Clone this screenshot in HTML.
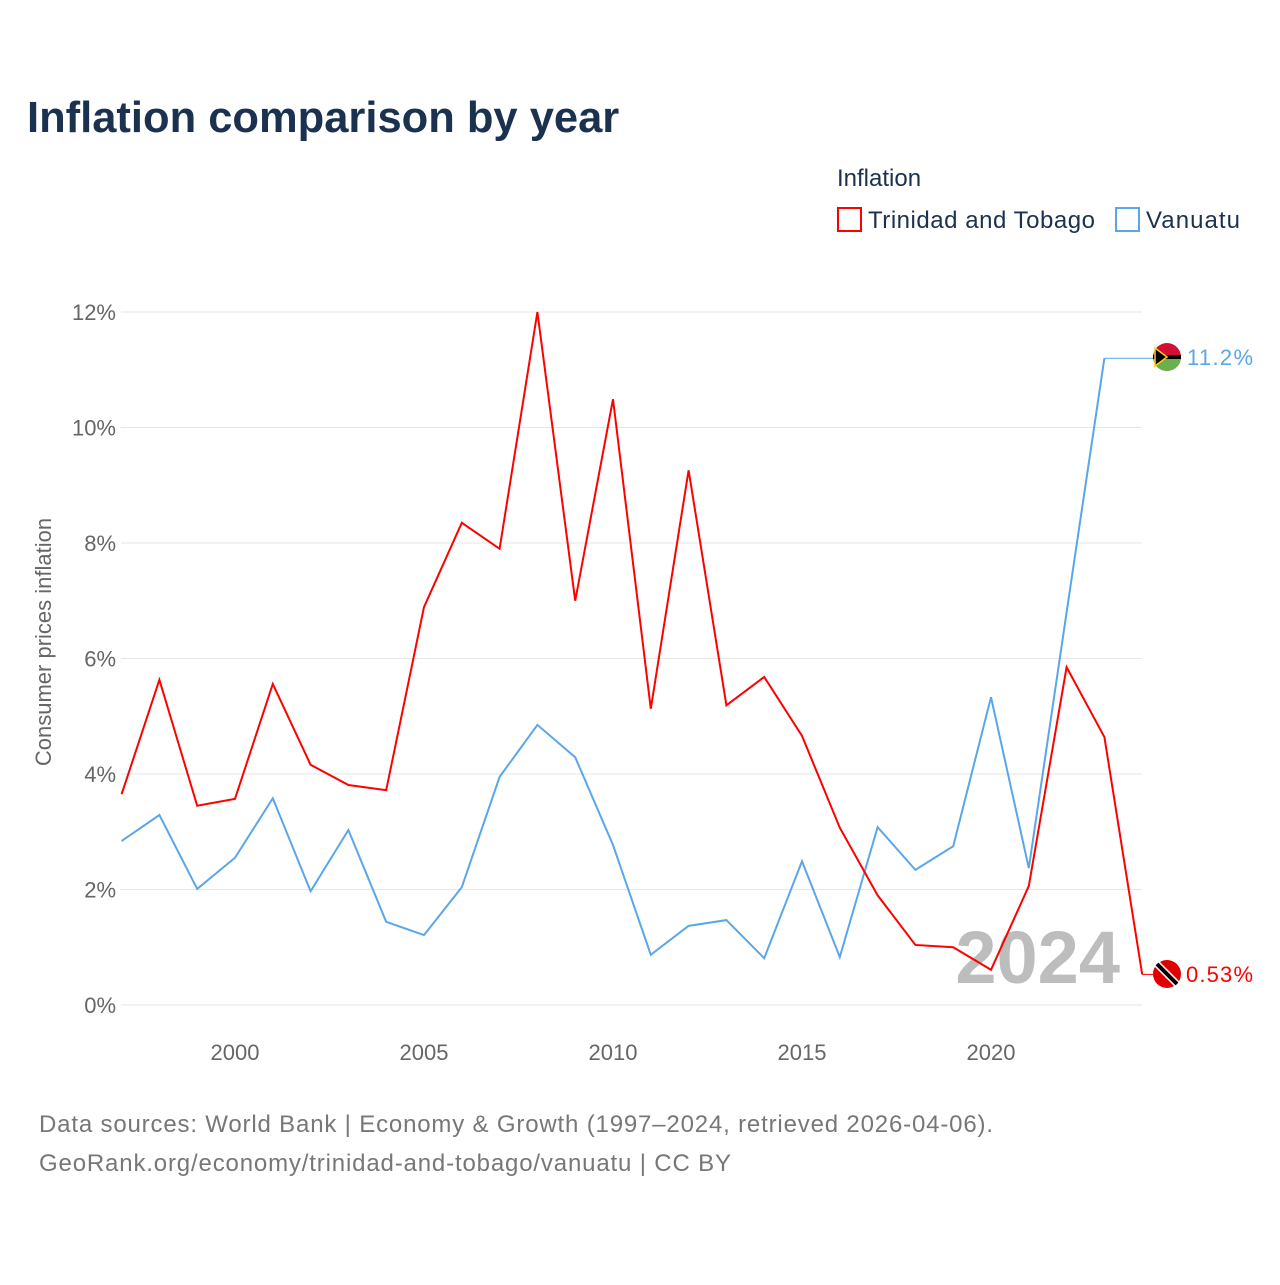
<!DOCTYPE html>
<html><head><meta charset="utf-8"><style>
body{margin:0;background:#fff;font-family:"Liberation Sans",sans-serif;}
</style></head><body>
<svg width="1280" height="1280" xmlns="http://www.w3.org/2000/svg">
<text x="27" y="132" font-size="43.5" font-weight="bold" fill="#1b3150">Inflation comparison by year</text>
<text x="837" y="186" font-size="24" fill="#1b3150">Inflation</text>
<g><rect x="838" y="208" width="23" height="23" fill="none" stroke="#ff0000" stroke-width="2"/><text x="868" y="228" font-size="24" fill="#1b3150" textLength="227">Trinidad and Tobago</text></g>
<g><rect x="1116" y="208" width="23" height="23" fill="none" stroke="#5aa6ea" stroke-width="2"/><text x="1146" y="228" font-size="24" fill="#1b3150" textLength="94">Vanuatu</text></g>
<g id="grid"></g><g id="yt"></g><g id="xt"></g>
<text transform="translate(51,642) rotate(-90)" text-anchor="middle" font-size="22" fill="#666">Consumer prices inflation</text>
<text x="1120" y="983" text-anchor="end" font-size="74" font-weight="bold" fill="#bdbdbd">2024</text>
<g id="series"></g>
<g><circle cx="1167" cy="357" r="14" fill="#d21034"/><path d="M1153 357 A14 14 0 0 0 1181 357Z" fill="#6ab04c"/><rect x="1153" y="355" width="28" height="4" fill="#000"/><path d="M1155 348 L1167 357 L1155 366Z" fill="#000" stroke="#fdce12" stroke-width="1.5"/></g>
<text x="1187" y="365" font-size="22" fill="#5aa6ea" textLength="66">11.2%</text>
<g><circle cx="1167" cy="974" r="14" fill="#e00000"/><line x1="1157" y1="964" x2="1177" y2="984" stroke="#fff" stroke-width="7"/><line x1="1157" y1="964" x2="1177" y2="984" stroke="#000" stroke-width="4"/></g>
<text x="1186" y="982" font-size="22" fill="#ff0000" textLength="67">0.53%</text>
<text x="39" y="1132" font-size="24" fill="#777" textLength="954">Data sources: World Bank | Economy &amp; Growth (1997–2024, retrieved 2026-04-06).</text>
<text x="39" y="1171" font-size="24" fill="#777" textLength="692">GeoRank.org/economy/trinidad-and-tobago/vanuatu | CC BY</text>
</svg>
<script>
const years=[1997,1998,1999,2000,2001,2002,2003,2004,2005,2006,2007,2008,2009,2010,2011,2012,2013,2014,2015,2016,2017,2018,2019,2020,2021,2022,2023,2024];
const trinidad=[3.65,5.63,3.45,3.57,5.56,4.16,3.81,3.72,6.89,8.35,7.90,12.0,7.0,10.49,5.13,9.26,5.19,5.68,4.66,3.07,1.90,1.04,1.0,0.61,2.06,5.85,4.64,0.53];
const vanuatu=[2.84,3.29,2.01,2.55,3.58,1.97,3.03,1.44,1.21,2.04,3.95,4.85,4.29,2.77,0.87,1.37,1.47,0.81,2.49,0.83,3.08,2.34,2.75,5.33,2.37,6.8,11.2];
const yTicks=[0,2,4,6,8,10,12];
const xTicks=[2000,2005,2010,2015,2020];
const NS="http://www.w3.org/2000/svg";
const X=y=>121.6+(y-1997)*37.8;
const Y=v=>1005-v*57.75;
function mk(t,a,p){const e=document.createElementNS(NS,t);for(const k in a)e.setAttribute(k,a[k]);document.getElementById(p).appendChild(e);return e;}
yTicks.forEach(v=>{
 const l=mk('line',{x1:121,x2:1142,y1:Y(v),y2:Y(v),stroke:'#e6e6e6','stroke-width':1},'grid');
 
 
 const t=mk('text',{x:116,y:Y(v)+8,'text-anchor':'end','font-size':22,fill:'#666'},'yt');t.textContent=v+'%';
 
 
});
xTicks.forEach(v=>{
 const t=mk('text',{x:X(v),y:1060,'text-anchor':'middle','font-size':22,fill:'#666'},'xt');t.textContent=v;
 
 
});
function line(d,c,n){
 const p=mk('polyline',{points:d.map((v,i)=>X(years[i])+','+Y(v)).join(' '),fill:'none',stroke:c,'stroke-width':2},'series');
 
 
 const last=d[d.length-1];
 const c2=mk('line',{x1:X(years[d.length-1]),x2:1153,y1:Y(last),y2:Y(last),stroke:c,'stroke-width':1},'series');
 
 
}
line(vanuatu,'#5aa6ea','vanuatu-line');
line(trinidad,'#ff0000','trinidad-line');
</script>
</body></html>
